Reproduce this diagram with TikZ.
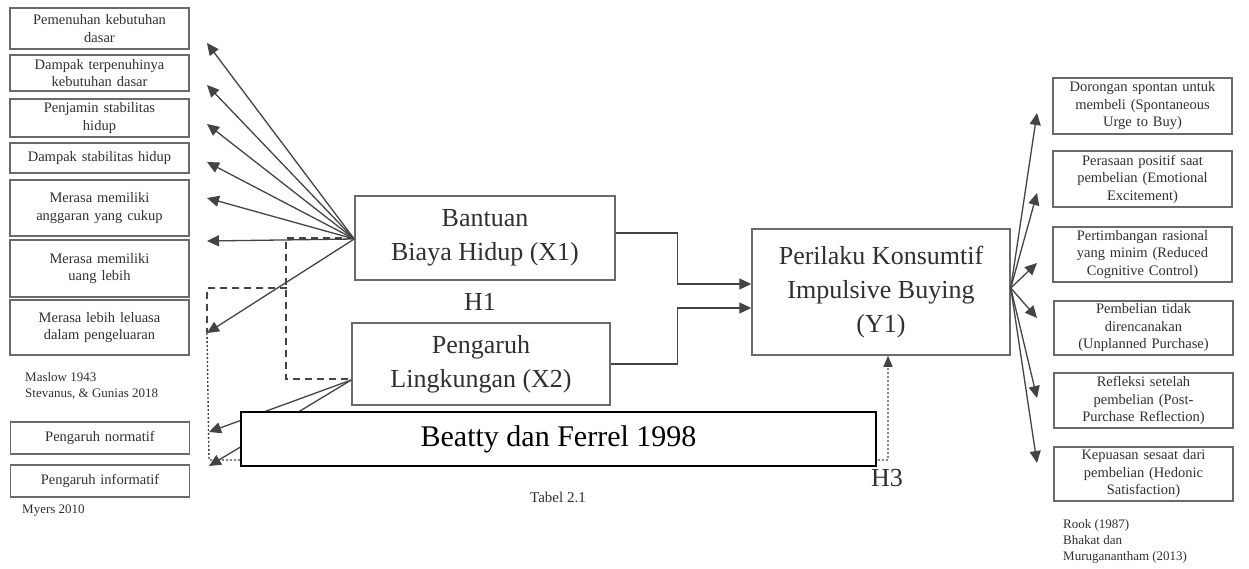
\documentclass[tikz,border=0pt]{standalone}
\usepackage{fontspec}
\setmainfont{Liberation Serif}
\usetikzlibrary{arrows.meta}
\definecolor{linegray}{HTML}{444444}
\definecolor{boxgray}{HTML}{6A6A6A}
\definecolor{txtgray}{HTML}{303030}

\begin{document}
\begin{tikzpicture}[x=1pt,y=-1pt,
  every node/.style={text=txtgray},
  indbox/.style={draw=boxgray, line width=1.3pt, minimum width=179pt, inner sep=1pt,
    align=center, text width=172pt, font=\fontsize{14.5}{17.5}\selectfont},
  varbox/.style={draw=boxgray, line width=1.5pt, minimum width=258pt, align=center,
    font=\fontsize{26}{34}\selectfont},
  conn/.style={draw=linegray, line width=1.3pt, -{Triangle[length=12pt,width=11pt]}},
  dashline/.style={draw=linegray, line width=1.8pt, dash pattern=on 7pt off 5pt},
  dotline/.style={draw=linegray, line width=1.4pt, dash pattern=on 2pt off 2pt},
  ref/.style={anchor=west, inner sep=0pt, align=left, font=\fontsize{13}{16}\selectfont},
  hyp/.style={inner sep=0pt, font=\fontsize{26}{30}\selectfont},
]
\path[use as bounding box, fill=white] (0,0) rectangle (1249,569);

% indikator X1 dan X2
\node[indbox, minimum height=41pt] (l1) at (99.5,28.5) {Pemenuhan kebutuhan\\dasar};
\node[indbox, minimum height=36pt] (l2) at (99.5,73) {Dampak terpenuhinya\\kebutuhan dasar};
\node[indbox, minimum height=38pt] (l3) at (99.5,118) {Penjamin stabilitas\\hidup};
\node[indbox, minimum height=30pt] (l4) at (99.5,158) {Dampak stabilitas hidup};
\node[indbox, minimum height=56pt] (l5) at (99.5,208) {Merasa memiliki\\anggaran yang cukup};
\node[indbox, minimum height=57pt] (l6) at (99.5,268.5) {Merasa memiliki\\uang lebih};
\node[indbox, minimum height=55pt] (l7) at (99.5,327.5) {Merasa lebih leluasa\\dalam pengeluaran};
\node[ref] (cite1) at (25,386) {Maslow 1943\\Stevanus, \& Gunias 2018};
\node[indbox, minimum height=32pt] (l8) at (100,438) {Pengaruh normatif};
\node[indbox, minimum height=32pt] (l9) at (100,481) {Pengaruh informatif};
\node[ref] (cite2) at (22,511) {Myers 2010};

% indikator Y1
\node[indbox, minimum height=56pt] (r1) at (1142.5,106) {Dorongan spontan untuk\\membeli (Spontaneous\\Urge to Buy)};
\node[indbox, minimum height=56pt] (r2) at (1142.5,179) {Perasaan positif saat\\pembelian (Emotional\\Excitement)};
\node[indbox, minimum height=55pt] (r3) at (1142.5,254.5) {Pertimbangan rasional\\yang minim (Reduced\\Cognitive Control)};
\node[indbox, minimum height=54pt] (r4) at (1143.5,328) {Pembelian tidak\\direncanakan\\(Unplanned Purchase)};
\node[indbox, minimum height=55pt] (r5) at (1143.5,400.5) {Refleksi setelah\\pembelian (Post-\\Purchase Reflection)};
\node[indbox, minimum height=54pt] (r6) at (1143.5,474) {Kepuasan sesaat dari\\pembelian (Hedonic\\Satisfaction)};
\node[ref] (cite3) at (1063,541) {Rook (1987)\\Bhakat dan\\Muruganantham (2013)};

% variabel
\node[varbox, minimum width=260pt, minimum height=84pt] (x1) at (485,238) {Bantuan\\Biaya Hidup (X1)};
\node[varbox, minimum height=82pt] (x2) at (481,364) {Pengaruh\\Lingkungan (X2)};
\node[varbox, minimum height=126pt] (y1) at (881,292) {Perilaku Konsumtif\\Impulsive Buying\\(Y1)};
\node[hyp] (h1) at (480,302) {H1};
\node[hyp] (h3) at (887,478) {H3};
\node[inner sep=0pt, font=\fontsize{15}{18}\selectfont] (tab) at (558,497) {Tabel 2.1};

% panah indikator
\foreach \n/\ty in {1/43,2/85,3/124,4/162,5/198,6/241,7/333}
  \coordinate (t\n) at (207,\ty);
\coordinate (t8) at (209,432);
\coordinate (t9) at (209,466);
\foreach \n/\ty in {1/113,2/193,3/263,4/318,5/398,6/463}
  \coordinate (s\n) at (1037,\ty);
\foreach \n in {1,...,7}
  \draw[conn] ([yshift=-1pt]x1.west) -- (t\n);
\foreach \n in {8,9}
  \draw[conn] ([yshift=-16pt]x2.west) -- (t\n);
\foreach \n in {1,...,6}
  \draw[conn] ([yshift=4pt]y1.east) -- (s\n);

% hubungan X ke Y
\draw[conn] ([yshift=5pt]x1.east) -- ++(62,0) |- ([yshift=8pt]y1.west);
\draw[conn] ([yshift=0pt]x2.east) -- ++(67,0) |- ([yshift=-16pt]y1.west);

% garis putus-putus
\coordinate (djoin) at (287,288);
\draw[dashline] ([yshift=0pt]x1.west) -- ++(-68,0) |- ([yshift=-15pt]x2.west);
\draw[dashline] (djoin) -| (t7);
\draw[dotline, -{Triangle[length=11pt,width=9pt]}] (t7) -- (209,460) -| ([xshift=7pt]y1.south);

\node[draw=black, line width=2.5pt, fill=white, text=black, minimum width=635pt,
  minimum height=54pt, font=\fontsize{30}{36}\selectfont] (src) at (558.5,439) {Beatty dan Ferrel 1998};
\end{tikzpicture}
\end{document}
